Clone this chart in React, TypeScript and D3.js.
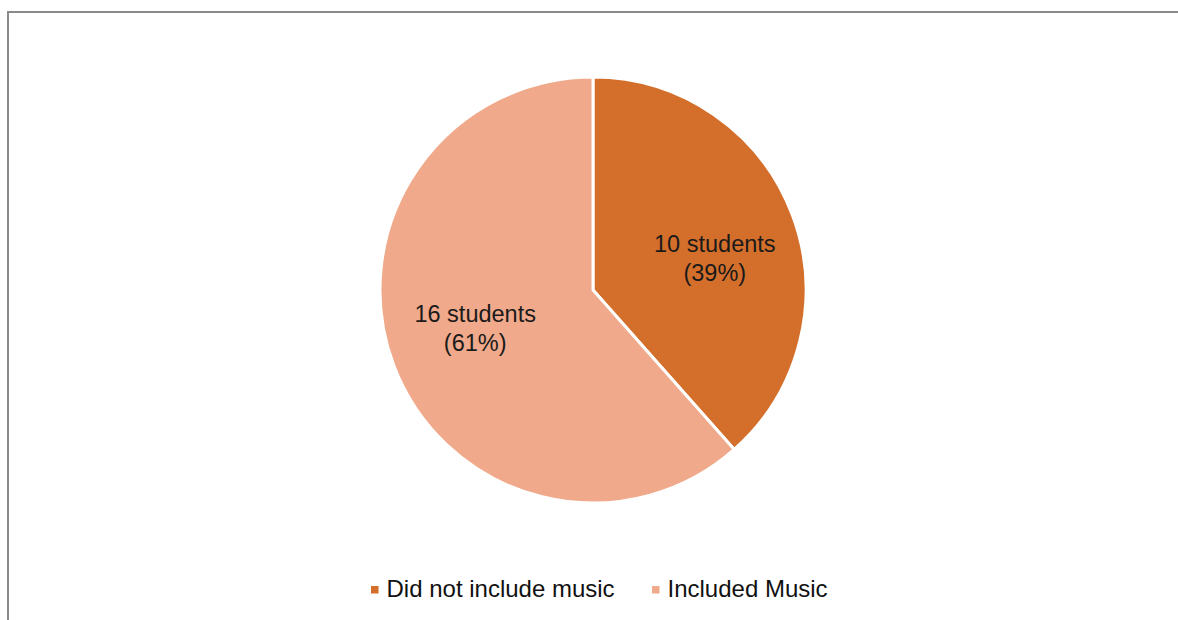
import React, { useEffect } from "react";
import * as d3 from "d3";

const categories = ["Did not include music", "Included Music"];
const values = [10, 16];
const sliceLabels = ["10 students", "16 students"];
const pctLabels = ["(39%)", "(61%)"];
const colors = ["#D46F2B", "#F0A98A"];

const W = 1178;
const H = 620;

export default function App() {
  useEffect(() => {
    document.body.style.margin = "0";
  }, []);
  const cx = 593;
  const cy = 290;
  const r = 213;
  const pie = d3.pie<number>().sort(null).value((d) => d);
  const arcs = pie(values);
  const arc = d3.arc<d3.PieArcDatum<number>>().innerRadius(0).outerRadius(r);
  const labelArc = d3.arc<d3.PieArcDatum<number>>().innerRadius(126).outerRadius(126);
  const nudgeX = [4, 0];
  const nudgeY = [20, 0];
  const font = "'Liberation Sans', Arial, sans-serif";
  const legendX = [371, 652];
  return (
    <div style={{ position: "absolute", left: 0, top: 0 }}>
      <svg width={W} height={H} style={{ display: "block", background: "#fff" }}>
        <path d={`M8,${H} L8,12 L${W},12`} fill="none" stroke="#8a8a8a" strokeWidth={2} />
        <g transform={`translate(${cx},${cy})`}>
          {arcs.map((a, i) => (
            <path key={i} d={arc(a) || ""} fill={colors[i]} stroke="#fff" strokeWidth={3} strokeLinejoin="round" />
          ))}
          {arcs.map((a, i) => {
            const [x0, y0] = labelArc.centroid(a);
            const x = x0 + nudgeX[i];
            const y = y0 + nudgeY[i];
            return (
              <text key={i} x={x} y={y} textAnchor="middle" fontFamily={font} fontSize={23.5} fill="#1a1a1a">
                <tspan x={x} dy={-13}>{sliceLabels[i]}</tspan>
                <tspan x={x} dy={29}>{pctLabels[i]}</tspan>
              </text>
            );
          })}
        </g>
        {categories.map((c, i) => (
          <g key={c} transform={`translate(${legendX[i]},0)`}>
            <rect x={0} y={586} width={7.5} height={7.5} fill={colors[i]} />
            <text x={15.5} y={597} fontFamily={font} fontSize={24} fill="#111">{c}</text>
          </g>
        ))}
      </svg>
    </div>
  );
}
